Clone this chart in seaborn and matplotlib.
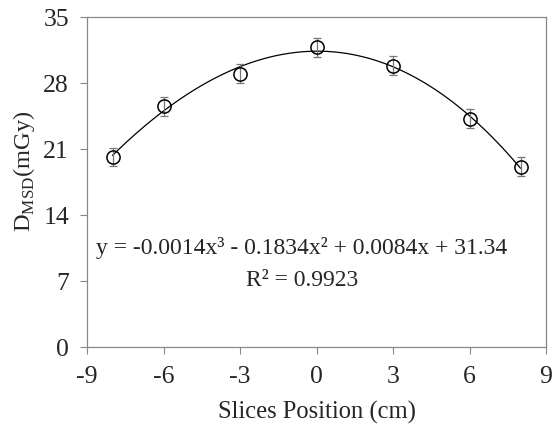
import numpy as np
import pandas as pd
import matplotlib
matplotlib.use("Agg")
import matplotlib.pyplot as plt
import seaborn as sns

# Data
positions = [-8, -6, -3, 0, 3, 6, 8]
dose = [20.15, 25.55, 29.0, 31.8, 29.85, 24.2, 19.1]
dose_err = [1.0, 1.0, 1.0, 1.0, 1.0, 1.0, 1.0]
x_ticks = [-9, -6, -3, 0, 3, 6, 9]
y_ticks = [0, 7, 14, 21, 28, 35]
equation = "y = -0.0014x³ - 0.1834x² + 0.0084x + 31.34"
r2_text = "R² = 0.9923"

df = pd.DataFrame({"pos": positions, "dose": dose, "err": dose_err})

sns.set_style("white")
plt.rcParams['font.family'] = ['Liberation Serif', 'DejaVu Serif']
plt.rcParams['mathtext.fontset'] = 'custom'
plt.rcParams['mathtext.rm'] = 'Liberation Serif'

fig = plt.figure(figsize=(5.53, 4.25), dpi=100)
ax = fig.add_axes([87/553, 1 - 347/425, (546 - 87)/553, (347 - 17)/425])

# cubic trendline
sns.regplot(data=df, x="pos", y="dose", order=3, ci=None, scatter=False,
            truncate=True, ax=ax, line_kws=dict(color="black", lw=0.9))

ax.errorbar(df["pos"], df["dose"], yerr=df["err"], fmt="none",
            ecolor="#777777", elinewidth=0.9, capsize=3, capthick=0.9, zorder=3)
ax.plot(df["pos"], df["dose"], linestyle="none", marker="o", markersize=9.5,
        markerfacecolor="none", markeredgecolor="black", markeredgewidth=1.1, zorder=4)

ax.set_xlim(-9, 9)
ax.set_ylim(0, 35)
ax.set_xticks(x_ticks)
ax.set_yticks(y_ticks)
ax.set_xticklabels([str(t) for t in x_ticks])
ax.set_yticklabels([str(t) for t in y_ticks])
ax.tick_params(axis="both", labelsize=18.5, direction="out", length=5,
               width=0.8, color="#888888", bottom=True, left=True)
ax.tick_params(axis="y", pad=8)
ax.tick_params(axis="x", pad=9)
for s in ax.spines.values():
    s.set_visible(True)
    s.set_color("#888888")
    s.set_linewidth(0.9)

ax.set_xlabel("Slices Position (cm)", fontsize=17.7, labelpad=9)
ax.set_ylabel(r"D$_{\mathregular{MSD}}$(mGy)", fontsize=17.6)
ax.yaxis.set_label_coords(-0.109, 0.533)

ax.text(-0.57, 10.5, equation, fontsize=17, ha="center", va="center")
ax.text(-0.57, 7.1, r2_text, fontsize=17, ha="center", va="center")

fig.savefig("out.png", dpi=100)
